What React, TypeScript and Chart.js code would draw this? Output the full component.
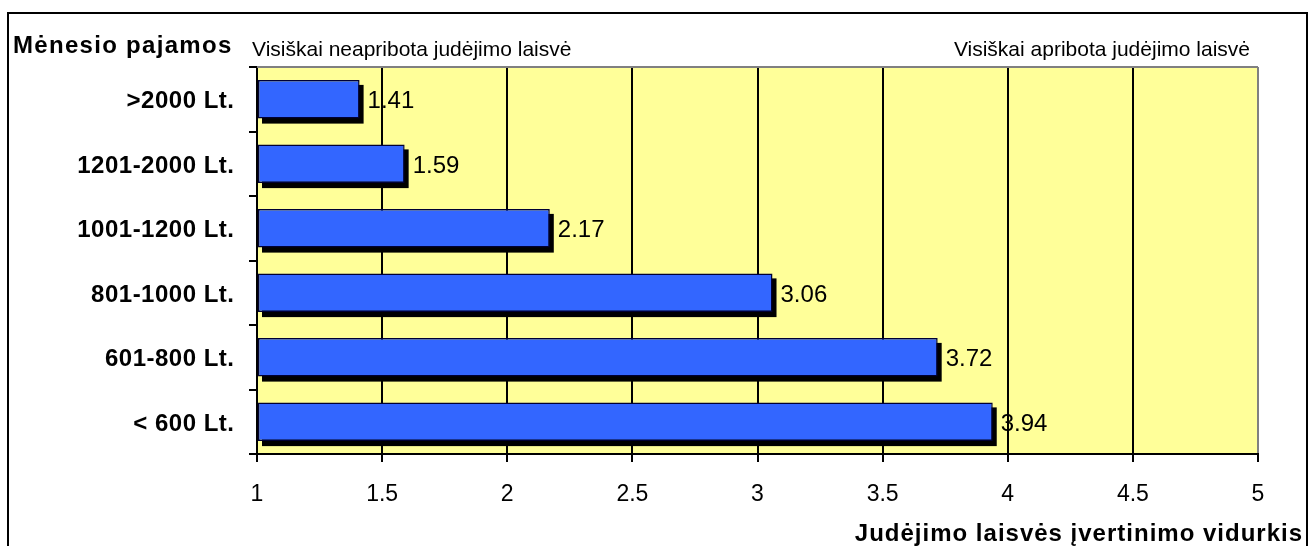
import React, { useEffect, useRef } from 'react';
import { Chart, registerables } from 'chart.js';

Chart.register(...registerables);

const categories = ['>2000 Lt.', '1201-2000 Lt.', '1001-1200 Lt.', '801-1000 Lt.', '601-800 Lt.', '< 600 Lt.'];
const values = [1.41, 1.59, 2.17, 3.06, 3.72, 3.94];
const xTickValues = [1, 1.5, 2, 2.5, 3, 3.5, 4, 4.5, 5];
const yTitle = 'Mėnesio pajamos';
const xTitle = 'Judėjimo laisvės įvertinimo vidurkis';
const leftNote = 'Visiškai neapribota judėjimo laisvė';
const rightNote = 'Visiškai apribota judėjimo laisvė';

const FONT = 'Arial, "Liberation Sans", sans-serif';

const decorPlugin = {
  id: 'decor',
  beforeDraw(chart: any) {
    const { ctx, chartArea: a, width, height } = chart;
    ctx.save();
    ctx.fillStyle = '#ffffff';
    ctx.fillRect(0, 0, width, height);
    ctx.fillStyle = '#FFFF99';
    ctx.fillRect(a.left, a.top, a.right - a.left, a.bottom - a.top);
    ctx.strokeStyle = '#000000';
    ctx.lineWidth = 2;
    ctx.strokeRect(8, 13, 1299, height + 20);
    ctx.restore();
  },
  beforeDatasetsDraw(chart: any) {
    const { ctx, chartArea: a } = chart;
    ctx.save();
    ctx.strokeStyle = '#808080';
    ctx.lineWidth = 2;
    ctx.beginPath();
    ctx.moveTo(a.left, a.top);
    ctx.lineTo(a.right, a.top);
    ctx.stroke();
    const meta = chart.getDatasetMeta(0);
    ctx.fillStyle = '#000000';
    meta.data.forEach((el: any) => {
      const { x, y, base, height } = el.getProps(['x', 'y', 'base', 'height'], true);
      ctx.fillRect(base + 4, y - height / 2 + 5, x - base, height);
    });
    ctx.restore();
  },
  afterDatasetsDraw(chart: any) {
    const { ctx } = chart;
    const meta = chart.getDatasetMeta(0);
    ctx.save();
    ctx.fillStyle = '#000000';
    ctx.font = `24px ${FONT}`;
    ctx.textAlign = 'left';
    ctx.textBaseline = 'alphabetic';
    meta.data.forEach((el: any, i: number) => {
      const { x, y } = el.getProps(['x', 'y'], true);
      ctx.fillText(values[i].toFixed(2), x + 8, y + 9);
    });
    ctx.restore();
  },
  afterDraw(chart: any) {
    const { ctx } = chart;
    const yScale = chart.scales.y;
    ctx.save();
    ctx.fillStyle = '#000000';
    ctx.textBaseline = 'alphabetic';
    // category labels
    ctx.font = `bold 24px ${FONT}`;
    ctx.textAlign = 'right';
    (ctx as any).letterSpacing = '0.5px';
    categories.forEach((c, i) => {
      const y = yScale.getPixelForValue(i);
      ctx.fillText(c, 234.5, y + 9);
    });
    // y title
    ctx.textAlign = 'left';
    (ctx as any).letterSpacing = '1.3px';
    ctx.fillText(yTitle, 13, 53);
    // x title
    ctx.textAlign = 'right';
    (ctx as any).letterSpacing = '1px';
    ctx.fillText(xTitle, 1303, 541);
    // notes
    (ctx as any).letterSpacing = '0px';
    ctx.font = `21px ${FONT}`;
    ctx.textAlign = 'left';
    ctx.fillText(leftNote, 252, 55.5);
    ctx.textAlign = 'right';
    ctx.fillText(rightNote, 1250, 55.5);
    ctx.restore();
  },
};

export default function App() {
  const ref = useRef<HTMLCanvasElement | null>(null);
  useEffect(() => {
    if (!ref.current) return;
    const chart = new Chart(ref.current, {
      type: 'bar',
      data: {
        labels: categories,
        datasets: [
          {
            data: values,
            base: 1,
            backgroundColor: '#3366FF',
            borderColor: '#000033',
            borderWidth: 1.5,
            borderSkipped: false,
            barPercentage: 0.6,
            categoryPercentage: 1,
          },
        ],
      },
      options: {
        indexAxis: 'y',
        responsive: false,
        animation: false,
        layout: { padding: { top: 67, right: 52, left: 0, bottom: 0 } },
        plugins: {
          legend: { display: false },
          tooltip: { enabled: false },
        },
        scales: {
          x: {
            type: 'linear',
            min: 1,
            max: 5,
            beginAtZero: false,
            afterBuildTicks(scale: any) {
              scale.ticks = xTickValues.map((v) => ({ value: v }));
            },
            afterFit(scale: any) {
              scale.height = 92;
            },
            ticks: {
              color: '#000000',
              font: { family: FONT, size: 23 },
              padding: 19,
              callback: (v: any) => String(v),
            },
            grid: {
              color: (c: any) => (c.tick && c.tick.value === 5 ? '#808080' : '#000000'),
              lineWidth: 2,
              tickColor: '#000000',
              tickLength: 8,
            },
            border: { color: '#000000', width: 2 },
          },
          y: {
            type: 'category',
            afterFit(scale: any) {
              scale.width = 257;
            },
            ticks: { display: false },
            grid: {
              drawOnChartArea: false,
              drawTicks: true,
              tickLength: 8,
              color: '#000000',
              tickColor: '#000000',
              lineWidth: 2,
              offset: true,
            },
            border: { color: '#000000', width: 2 },
          },
        },
      },
      plugins: [decorPlugin],
    } as any);
    return () => chart.destroy();
  }, []);
  return (
    <div style={{ position: 'absolute', left: 0, top: 0, width: 1310, height: 546 }}>
      <canvas ref={ref} width={1310} height={546} style={{ display: 'block' }} />
    </div>
  );
}
